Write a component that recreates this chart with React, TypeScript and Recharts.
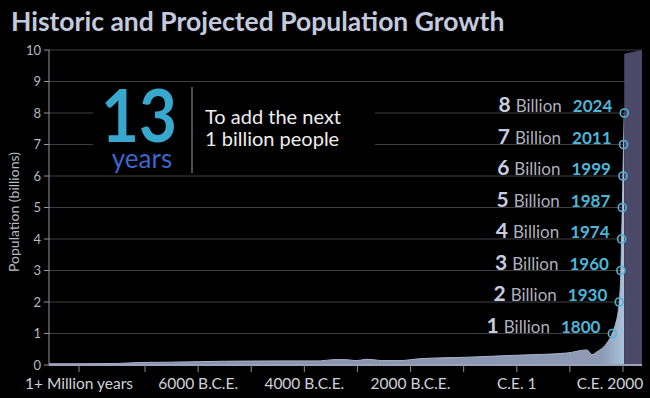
import React from 'react';
import { ComposedChart, Area, Line, XAxis, YAxis, CartesianGrid } from 'recharts';

// Historic population (billions) by year (negative = B.C.E.)
const histYears = [
  -8808, -8224, -7500, -7100, -6500, -5500, -4500, -3700, -3460, -3200, -3050, -2950,
  -2850, -2700, -2550, -2199, -1822, -881, 1, 946, 1322, 1416, 1510, 1623, 1700,
  1755, 1800, 1850, 1900, 1930, 1960, 1974, 1987, 1999, 2011, 2024,
];
const histPop = [
  0.04, 0.04, 0.05, 0.08, 0.09, 0.12, 0.13, 0.13, 0.17, 0.17, 0.14, 0.15,
  0.18, 0.17, 0.14, 0.14, 0.2, 0.25, 0.31, 0.38, 0.48, 0.33, 0.42, 0.55, 0.7,
  0.85, 1.0, 1.25, 1.6, 2.0, 3.0, 4.0, 5.0, 6.0, 7.0, 8.0,
];
// Projected band
const projYears = [2024, 2358];
const projPop = [9.88, 10];
// Billion milestones
const milestoneYears = [1800, 1930, 1960, 1974, 1987, 1999, 2011, 2024];
const milestoneBillions = [1, 2, 3, 4, 5, 6, 7, 8];
// Ticks
const xTicks = [-8243, -7000, -6000, -5000, -4000, -3000, -2000, -1000, 1, 1000, 2000];
const xTickLabels: Record<number, string> = {
  [-8243]: '1+ Million years',
  [-6000]: '6000 B.C.E.',
  [-4000]: '4000 B.C.E.',
  [-2000]: '2000 B.C.E.',
  [1]: 'C.E. 1',
  [2000]: 'C.E. 2000',
};
const yTicks = [0, 1, 2, 3, 4, 5, 6, 7, 8, 9, 10];

type Row = { year: number; pop?: number; proj?: number; mark?: number };

const rowsMap = new Map<number, Row>();
histYears.forEach((y, i) => rowsMap.set(y, { year: y, pop: histPop[i] }));
projYears.forEach((y, i) => {
  const r = rowsMap.get(y) || { year: y };
  r.proj = projPop[i];
  rowsMap.set(y, r);
});
milestoneYears.forEach((y, i) => {
  const r = rowsMap.get(y) || { year: y };
  r.mark = milestoneBillions[i];
  rowsMap.set(y, r);
});
const data: Row[] = Array.from(rowsMap.values()).sort((a, b) => a.year - b.year);

const FONT = 'Lato, "Open Sans", sans-serif';

const XTick = (props: any) => {
  const { x, y, payload } = props;
  const label = xTickLabels[payload.value] || '';
  const shift = payload.value === 2000 ? -13 : 0;
  return (
    <text x={x + shift} y={y + 15} textAnchor="middle" fill="#d0d3db" fontSize={15.5} fontFamily={FONT}>
      {label}
    </text>
  );
};

const MarkDot = (props: any) => {
  const { cx, cy, payload, index } = props;
  if (payload == null || payload.mark == null || cy == null || cx == null) return <g key={'d' + index} />;
  return (
    <g key={'d' + index}>
      <circle cx={cx} cy={cy} r={4} fill="none" stroke="#4fb5d8" strokeWidth={1.6} />
      <text x={cx - 12} y={cy - 1} textAnchor="end" fontFamily={FONT}>
        <tspan fontSize={21} fontWeight={700} fill="#c9cde0">{payload.mark}</tspan>
        <tspan dx={5} fontSize={17} fill="#aeb1bf">Billion</tspan>
        <tspan dx={11} fontSize={17} fontWeight={700} fill="#4cb6d9">{String(payload.year)}</tspan>
      </text>
    </g>
  );
};

export default function App() {
  return (
    <div style={{ position: 'absolute', left: 0, top: 0, width: 650, height: 398, background: '#000', fontFamily: FONT }}>
      <ComposedChart width={650} height={398} data={data} margin={{ top: 50, right: 8, bottom: 3, left: 0 }}>
        <defs>
          <linearGradient id="histFill" x1="0" y1="0" x2="1" y2="0">
            <stop offset="0%" stopColor="#8590aa" />
            <stop offset="96%" stopColor="#8e99b3" />
            <stop offset="100%" stopColor="#a9c4dc" />
          </linearGradient>
        </defs>
        <CartesianGrid vertical={false} stroke="#404040" strokeWidth={1} />
        <XAxis
          type="number"
          dataKey="year"
          domain={[-8808, 2358]}
          ticks={xTicks}
          interval={0}
          height={30}
          tickSize={7}
          tick={<XTick />}
          axisLine={{ stroke: '#9aa3bb', strokeWidth: 2 }}
          tickLine={{ stroke: '#8d8f98' }}
        />
        <YAxis
          type="number"
          domain={[0, 10]}
          ticks={yTicks}
          interval={0}
          width={49}
          tickSize={5}
          tickMargin={3}
          tick={{ fill: '#b8b9c0', fontSize: 13, fontFamily: FONT }}
          axisLine={{ stroke: '#8f95a5' }}
          tickLine={{ stroke: '#8f95a5' }}
        />
        <Area
          type="monotone"
          dataKey="pop"
          fill="url(#histFill)"
          fillOpacity={1}
          stroke="#aab4cb"
          strokeWidth={1}
          isAnimationActive={false}
        />
        <Area
          type="linear"
          dataKey="proj"
          fill="#4a4a68"
          fillOpacity={1}
          stroke="none"
          isAnimationActive={false}
        />
        <Line
          type="linear"
          dataKey="mark"
          stroke="none"
          connectNulls
          dot={<MarkDot />}
          activeDot={false}
          isAnimationActive={false}
        />
      </ComposedChart>
      <svg width={650} height={398} style={{ position: 'absolute', left: 0, top: 0, pointerEvents: 'none' }}>
        <text x={11} y={31} fontSize={26.5} fontWeight={700} fill="#c3cade" fontFamily={FONT}>
          Historic and Projected Population Growth
        </text>
        <text
          x={19}
          y={212}
          transform="rotate(-90 19 212)"
          textAnchor="middle"
          fontSize={14}
          fill="#b8b9c0"
          fontFamily={FONT}
        >
          Population (billions)
        </text>
        <rect x={93} y={84} width={282} height={90} fill="#000" />
        <text
          x={139}
          y={142}
          textAnchor="middle"
          fontSize={72}
          fontWeight={700}
          fill="#38a8cf"
          fontFamily={FONT}
          textLength={76}
          lengthAdjust="spacingAndGlyphs"
        >
          13
        </text>
        <text x={142} y={168} textAnchor="middle" fontSize={26} fill="#3c66cc" fontFamily={FONT}>
          years
        </text>
        <line x1={192} y1={87} x2={192} y2={173} stroke="#6a6a6a" strokeWidth={1.5} />
        <text x={205} y={124} fontSize={20} fill="#eeeeee" fontFamily={FONT}>
          To add the next
        </text>
        <text x={205} y={146} fontSize={20} fill="#eeeeee" fontFamily={FONT}>
          1 billion people
        </text>
      </svg>
    </div>
  );
}
